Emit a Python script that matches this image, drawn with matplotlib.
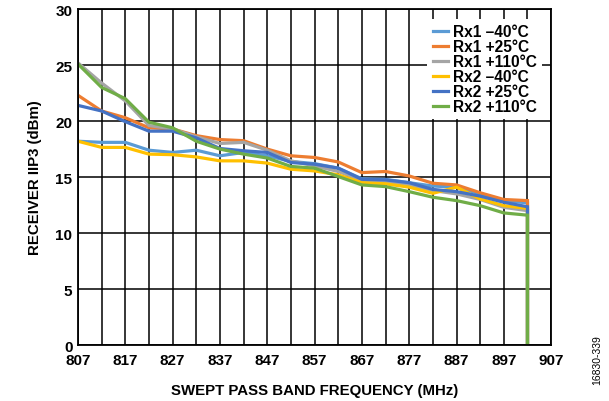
import numpy as np
import matplotlib.pyplot as plt

plt.rcParams['font.family'] = ['Liberation Sans', 'DejaVu Sans']
plt.rcParams['font.weight'] = 'bold'

freq = [807, 812, 817, 822, 827, 832, 837, 842, 847, 852,
        857, 862, 867, 872, 877, 882, 887, 892, 897, 902, 902]

rx1_m40 = [18.2, 18.1, 18.1, 17.4, 17.2, 17.4, 16.9, 17.2, 16.9, 16.4,
           16.2, 15.8, 14.85, 14.8, 14.5, 14.2, 14.1, 13.5, 12.9, 12.7, 0]
rx1_p25 = [22.3, 20.9, 20.3, 19.4, 19.3, 18.7, 18.35, 18.25, 17.5, 16.9,
           16.75, 16.35, 15.4, 15.5, 15.1, 14.45, 14.3, 13.6, 13.0, 12.9, 0]
rx1_p110 = [25.2, 23.4, 21.8, 19.6, 19.3, 18.6, 18.0, 18.1, 17.4, 16.45,
            16.0, 15.5, 14.7, 14.6, 14.3, 13.8, 13.5, 13.0, 12.3, 12.0, 0]
rx2_m40 = [18.2, 17.65, 17.65, 17.05, 17.0, 16.8, 16.45, 16.45, 16.25, 15.7,
           15.55, 15.2, 14.5, 14.4, 14.1, 13.55, 14.1, 13.05, 12.45, 12.2, 0]
rx2_p25 = [21.4, 20.9, 19.95, 19.1, 19.1, 18.5, 17.55, 17.35, 17.2, 16.3,
           16.15, 15.8, 14.8, 14.75, 14.5, 13.9, 13.7, 13.3, 12.75, 12.35, 0]
rx2_p110 = [25.1, 23.0, 22.0, 19.9, 19.4, 18.2, 17.5, 17.05, 16.7, 15.95,
            15.8, 15.05, 14.3, 14.15, 13.7, 13.2, 12.9, 12.45, 11.8, 11.6, 0]

series = [
    ('Rx1 \u201340\u00b0C', rx1_m40, '#5B9BD5'),
    ('Rx1 +25\u00b0C', rx1_p25, '#ED7D31'),
    ('Rx1 +110\u00b0C', rx1_p110, '#A5A5A5'),
    ('Rx2 \u201340\u00b0C', rx2_m40, '#FFC000'),
    ('Rx2 +25\u00b0C', rx2_p25, '#4472C4'),
    ('Rx2 +110\u00b0C', rx2_p110, '#70AD47'),
]

fig = plt.figure(figsize=(6.09, 4.02), dpi=100)
ax = fig.add_axes([0.128, 0.139, 0.777, 0.836])

for label, vals, color in series:
    ax.plot(freq, vals, color=color, lw=2.3, label=label, solid_joinstyle='miter')

ax.set_xlim(807, 907)
ax.set_ylim(0, 30)
ax.set_xticks(np.arange(807, 908, 10))
ax.set_xticks(np.arange(812, 907, 10), minor=True)
ax.set_yticks(np.arange(0, 31, 5))
ax.grid(True, which='both', color='black', lw=1.1)
ax.set_axisbelow(True)
ax.tick_params(which='both', length=0, labelsize=11, pad=4)
ax.tick_params(axis='x', pad=6)
for s in ax.spines.values():
    s.set_color('black')
    s.set_linewidth(1.3)

ax.set_xlabel('SWEPT PASS BAND FREQUENCY (MHz)', fontsize=10.8, fontweight='bold', labelpad=11)
ax.set_ylabel('RECEIVER IIP3 (dBm)', fontsize=10.8, fontweight='bold', labelpad=10)

leg = ax.legend(loc='upper right', bbox_to_anchor=(0.998, 0.995), frameon=True,
                fancybox=False, edgecolor='none', framealpha=1, fontsize=11.2,
                handlelength=1.0, handletextpad=0.3, labelspacing=0.0,
                borderpad=0.35)
for t in leg.get_texts():
    t.set_fontweight('bold')

fig.text(0.981, 0.105, '16830-339', rotation=90, fontsize=7.5, fontweight='normal',
         ha='center', va='center')

fig.savefig('out.png', dpi=100)
